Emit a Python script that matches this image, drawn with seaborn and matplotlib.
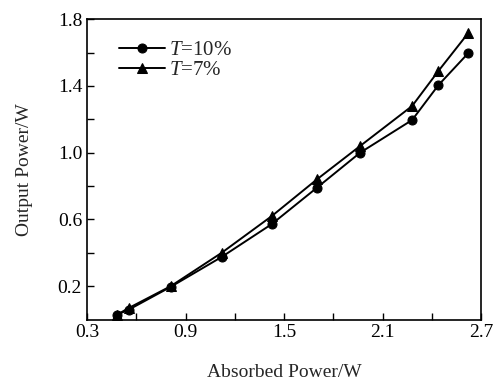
import pandas as pd
import matplotlib.pyplot as plt
import seaborn as sns
from matplotlib.ticker import FixedLocator

absorbed = [0.485, 0.556, 0.81, 1.12, 1.425, 1.70, 1.963, 2.28, 2.44, 2.62]
out_t10 = [0.03, 0.06, 0.196, 0.375, 0.572, 0.79, 1.0, 1.196, 1.405, 1.595]
out_t7 = [0.03, 0.07, 0.2, 0.40, 0.62, 0.84, 1.04, 1.28, 1.49, 1.715]
series = ["T=10%", "T=7%"]
x_ticks = [0.3, 0.9, 1.5, 2.1, 2.7]
y_ticks = [0.2, 0.6, 1.0, 1.4, 1.8]

sns.set_style("ticks")
plt.rcParams.update({
    'font.family': ['Liberation Serif', 'DejaVu Serif'],
    'mathtext.fontset': 'custom',
    'mathtext.rm': 'Liberation Serif',
    'mathtext.it': 'Liberation Serif:italic',
    'font.size': 14,
})

df = pd.DataFrame({
    "absorbed": absorbed * 2,
    "output": out_t10 + out_t7,
    "series": [series[0]] * len(absorbed) + [series[1]] * len(absorbed),
})

fig, ax = plt.subplots(figsize=(4.97, 3.85), dpi=100)
sns.lineplot(data=df, x="absorbed", y="output", hue="series", style="series",
             palette=["black", "black"], markers={"T=10%": "o", "T=7%": "^"},
             dashes=False, markersize=6.5, linewidth=1.4, markeredgecolor="black",
             ax=ax)

ax.set_xlim(0.3, 2.7)
ax.set_ylim(0.0, 1.8)
ax.set_xticks(x_ticks)
ax.set_yticks(y_ticks)
ax.xaxis.set_minor_locator(FixedLocator([0.6, 1.2, 1.8, 2.4]))
ax.yaxis.set_minor_locator(FixedLocator([0.4, 0.8, 1.2, 1.6]))
ax.tick_params(which="both", direction="in", top=False, right=False, labelsize=14,
               color="black", labelcolor="black", length=5, width=1)
for s in ax.spines.values():
    s.set_color("black")
    s.set_linewidth(1.2)

ax.set_xlabel("Absorbed Power/W", fontsize=14, labelpad=16)
ax.set_ylabel("Output Power/W", fontsize=14, labelpad=18)

handles, _ = ax.get_legend_handles_labels()
ax.legend(handles, ["$T$=10%", "$T$=7%"], loc="upper left", frameon=False,
          fontsize=15, handlelength=2.2, handletextpad=0.2, labelspacing=0.0,
          borderaxespad=0.2, bbox_to_anchor=(0.05, 0.97))

fig.subplots_adjust(left=0.175, right=0.968, top=0.95, bottom=0.17)
fig.savefig("out.png", dpi=100)
